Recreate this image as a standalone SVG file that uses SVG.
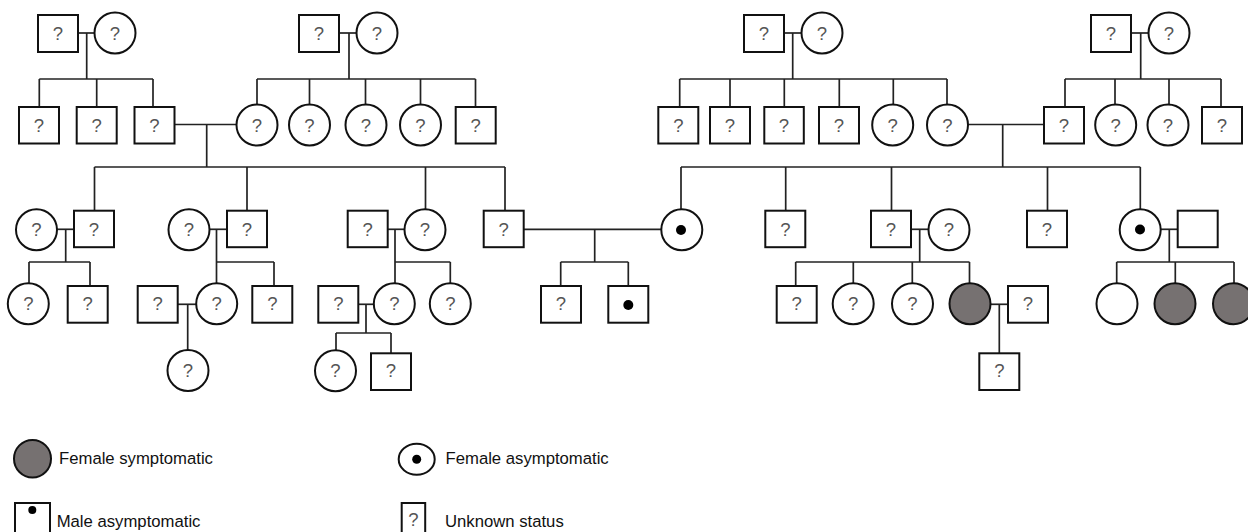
<svg xmlns="http://www.w3.org/2000/svg" width="1248" height="532" viewBox="0 0 1248 532">
<style>
.m{fill:#fff;stroke:#111;stroke-width:2}
.f{fill:#fff;stroke:#111;stroke-width:2}
.a{fill:#767171;stroke:#111;stroke-width:2}
.q{font-family:"Liberation Sans",Arial,sans-serif;font-size:18.5px;fill:#555;text-anchor:middle}
.d{fill:#000}
.l{font-family:"Liberation Sans",Arial,sans-serif;font-size:16.7px;fill:#111}
#connectors line{stroke:#222;stroke-width:1.7;fill:none}
</style>
<rect width="1248" height="532" fill="#fff"/>
<g id="connectors">
<line x1="78" y1="33" x2="94.5" y2="33"/><line x1="86.7" y1="33" x2="86.7" y2="79"/>
<line x1="39.3" y1="79" x2="153" y2="79"/>
<line x1="39.3" y1="79" x2="39.3" y2="107"/><line x1="96.7" y1="79" x2="96.7" y2="107"/><line x1="153" y1="79" x2="153" y2="107"/>
<line x1="339" y1="33" x2="356.5" y2="33"/><line x1="349" y1="33" x2="349" y2="79"/>
<line x1="257" y1="79" x2="475.5" y2="79"/>
<line x1="257" y1="79" x2="257" y2="104.5"/><line x1="309.5" y1="79" x2="309.5" y2="104.5"/><line x1="365.5" y1="79" x2="365.5" y2="104.5"/><line x1="420.5" y1="79" x2="420.5" y2="104.5"/><line x1="475.5" y1="79" x2="475.5" y2="107"/>
<line x1="784" y1="33" x2="801.5" y2="33"/><line x1="792.7" y1="33" x2="792.7" y2="79"/>
<line x1="679.7" y1="79" x2="947" y2="79"/>
<line x1="679.7" y1="79" x2="679.7" y2="107"/><line x1="730" y1="79" x2="730" y2="107"/><line x1="784.3" y1="79" x2="784.3" y2="107"/><line x1="839.3" y1="79" x2="839.3" y2="107"/><line x1="893.3" y1="79" x2="893.3" y2="104.5"/><line x1="947" y1="79" x2="947" y2="104.5"/>
<line x1="1131" y1="33" x2="1148.5" y2="33"/><line x1="1140.7" y1="33" x2="1140.7" y2="79"/>
<line x1="1065" y1="79" x2="1221" y2="79"/>
<line x1="1065" y1="79" x2="1065" y2="107"/><line x1="1115" y1="79" x2="1115" y2="104.5"/><line x1="1169" y1="79" x2="1169" y2="104.5"/><line x1="1221" y1="79" x2="1221" y2="107"/>
<line x1="174" y1="124.5" x2="236.5" y2="124.5"/><line x1="206.7" y1="124.5" x2="206.7" y2="167"/>
<line x1="94.5" y1="167" x2="505" y2="167"/>
<line x1="94.5" y1="167" x2="94.5" y2="210.7"/><line x1="247" y1="167" x2="247" y2="210.7"/><line x1="425.5" y1="167" x2="425.5" y2="209"/><line x1="505" y1="167" x2="505" y2="210.7"/>
<line x1="968" y1="124.5" x2="1044" y2="124.5"/><line x1="1002.7" y1="124.5" x2="1002.7" y2="167"/>
<line x1="681" y1="167" x2="1140.3" y2="167"/>
<line x1="681" y1="167" x2="681" y2="209"/><line x1="785.7" y1="167" x2="785.7" y2="210.7"/><line x1="891.5" y1="167" x2="891.5" y2="210.7"/><line x1="1047.5" y1="167" x2="1047.5" y2="210.7"/><line x1="1140.3" y1="167" x2="1140.3" y2="209"/>
<line x1="57" y1="229.3" x2="74" y2="229.3"/><line x1="65.7" y1="229.3" x2="65.7" y2="262"/>
<line x1="29" y1="262" x2="90" y2="262"/><line x1="29" y1="262" x2="29" y2="283.3"/><line x1="90" y1="262" x2="90" y2="286"/>
<line x1="209.5" y1="229.3" x2="227" y2="229.3"/><line x1="216.5" y1="229.3" x2="216.5" y2="283.3"/>
<line x1="216.5" y1="262" x2="274" y2="262"/><line x1="274" y1="262" x2="274" y2="286"/>
<line x1="177.7" y1="304.3" x2="196.2" y2="304.3"/><line x1="187.7" y1="304.3" x2="187.7" y2="350"/>
<line x1="387.7" y1="229.3" x2="404.5" y2="229.3"/><line x1="395" y1="229.3" x2="395" y2="283.3"/>
<line x1="395" y1="262" x2="450.3" y2="262"/><line x1="450.3" y1="262" x2="450.3" y2="283.3"/>
<line x1="358.3" y1="304.3" x2="374" y2="304.3"/><line x1="366" y1="304.3" x2="366" y2="333"/>
<line x1="336" y1="333" x2="391" y2="333"/><line x1="336" y1="333" x2="336" y2="350.3"/><line x1="391" y1="333" x2="391" y2="353.3"/>
<line x1="523.7" y1="229.3" x2="661.3" y2="229.3"/><line x1="594.7" y1="229.3" x2="594.7" y2="262"/>
<line x1="560.7" y1="262" x2="628.3" y2="262"/><line x1="560.7" y1="262" x2="560.7" y2="286"/><line x1="628.3" y1="262" x2="628.3" y2="286"/>
<line x1="911" y1="229.3" x2="928.5" y2="229.3"/><line x1="919.7" y1="229.3" x2="919.7" y2="262"/>
<line x1="795.7" y1="262" x2="969.5" y2="262"/>
<line x1="795.7" y1="262" x2="795.7" y2="286"/><line x1="853.3" y1="262" x2="853.3" y2="283.3"/><line x1="912.3" y1="262" x2="912.3" y2="283.3"/><line x1="969.5" y1="262" x2="969.5" y2="283.3"/>
<line x1="990.5" y1="304.3" x2="1008" y2="304.3"/><line x1="999.3" y1="304.3" x2="999.3" y2="353.3"/>
<line x1="1160.7" y1="229.3" x2="1177.7" y2="229.3"/><line x1="1169.3" y1="229.3" x2="1169.3" y2="262"/>
<line x1="1116.7" y1="262" x2="1234" y2="262"/>
<line x1="1116.7" y1="262" x2="1116.7" y2="283.3"/><line x1="1175.3" y1="262" x2="1175.3" y2="283.3"/><line x1="1234" y1="262" x2="1234" y2="283.3"/>
</g>

<g id="g1-A1"><rect class="m" x="38" y="15" width="40" height="37"/><text class="q" x="58" y="40">?</text></g>
<g id="g1-A2"><circle class="f" cx="115" cy="33" r="20.5"/><text class="q" x="115" y="40">?</text></g>
<g id="g1-B1"><rect class="m" x="299" y="15" width="40" height="37"/><text class="q" x="319" y="40">?</text></g>
<g id="g1-B2"><circle class="f" cx="377" cy="33" r="20.5"/><text class="q" x="377" y="40">?</text></g>
<g id="g1-C1"><rect class="m" x="744" y="15" width="40" height="37"/><text class="q" x="764" y="40">?</text></g>
<g id="g1-C2"><circle class="f" cx="822" cy="33" r="20.5"/><text class="q" x="822" y="40">?</text></g>
<g id="g1-D1"><rect class="m" x="1091" y="15" width="40" height="37"/><text class="q" x="1111" y="40">?</text></g>
<g id="g1-D2"><circle class="f" cx="1169" cy="33" r="20.5"/><text class="q" x="1169" y="40">?</text></g>

<g id="g2-A1"><rect class="m" x="19" y="107" width="40" height="36.5"/><text class="q" x="39" y="131.5">?</text></g>
<g id="g2-A2"><rect class="m" x="76.7" y="107" width="40" height="36.5"/><text class="q" x="96.7" y="131.5">?</text></g>
<g id="g2-A3"><rect class="m" x="134.5" y="107" width="40" height="36.5"/><text class="q" x="154.5" y="131.5">?</text></g>
<g id="g2-B1"><circle class="f" cx="257" cy="125" r="20.5"/><text class="q" x="257" y="131.5">?</text></g>
<g id="g2-B2"><circle class="f" cx="309.5" cy="125" r="20.5"/><text class="q" x="309.5" y="131.5">?</text></g>
<g id="g2-B3"><circle class="f" cx="366" cy="125" r="20.5"/><text class="q" x="366" y="131.5">?</text></g>
<g id="g2-B4"><circle class="f" cx="420.5" cy="125" r="20.5"/><text class="q" x="420.5" y="131.5">?</text></g>
<g id="g2-B5"><rect class="m" x="455.7" y="107" width="40" height="36.5"/><text class="q" x="475.7" y="131.5">?</text></g>
<g id="g2-C1"><rect class="m" x="658.3" y="107" width="40" height="36.5"/><text class="q" x="678.3" y="131.5">?</text></g>
<g id="g2-C2"><rect class="m" x="710" y="107" width="40" height="36.5"/><text class="q" x="730" y="131.5">?</text></g>
<g id="g2-C3"><rect class="m" x="764.3" y="107" width="39.5" height="36.5"/><text class="q" x="784" y="131.5">?</text></g>
<g id="g2-C4"><rect class="m" x="819" y="107" width="40" height="36.5"/><text class="q" x="839" y="131.5">?</text></g>
<g id="g2-C5"><circle class="f" cx="892.7" cy="125" r="20.5"/><text class="q" x="892.7" y="131.5">?</text></g>
<g id="g2-C6"><circle class="f" cx="947.5" cy="125" r="20.5"/><text class="q" x="947.5" y="131.5">?</text></g>
<g id="g2-D1"><rect class="m" x="1044" y="107" width="40" height="36.5"/><text class="q" x="1064" y="131.5">?</text></g>
<g id="g2-D2"><circle class="f" cx="1115.7" cy="125" r="20.5"/><text class="q" x="1115.7" y="131.5">?</text></g>
<g id="g2-D3"><circle class="f" cx="1168" cy="125" r="20.5"/><text class="q" x="1168" y="131.5">?</text></g>
<g id="g2-D4"><rect class="m" x="1202" y="107" width="40" height="36.5"/><text class="q" x="1222" y="131.5">?</text></g>

<g id="g3-L1w"><circle class="f" cx="36.5" cy="229.7" r="20.5"/><text class="q" x="36.5" y="236.2">?</text></g>
<g id="g3-L1h"><rect class="m" x="74" y="210.7" width="40" height="36.5"/><text class="q" x="94" y="236.2">?</text></g>
<g id="g3-L2w"><circle class="f" cx="189" cy="229.7" r="20.5"/><text class="q" x="189" y="236.2">?</text></g>
<g id="g3-L2h"><rect class="m" x="227" y="210.7" width="40" height="36.5"/><text class="q" x="247" y="236.2">?</text></g>
<g id="g3-L3h"><rect class="m" x="347.7" y="210.7" width="40" height="36.5"/><text class="q" x="367.7" y="236.2">?</text></g>
<g id="g3-L3w"><circle class="f" cx="425" cy="229.7" r="20.5"/><text class="q" x="425" y="236.2">?</text></g>
<g id="g3-C1"><rect class="m" x="483.7" y="210.7" width="40" height="36.5"/><text class="q" x="503.7" y="236.2">?</text></g>
<g id="g3-C2"><circle class="f" cx="681.8" cy="229.7" r="20.5"/><circle class="d" cx="681" cy="230" r="5"/></g>
<g id="g3-R1"><rect class="m" x="765.3" y="210.7" width="40" height="36.5"/><text class="q" x="785.3" y="236.2">?</text></g>
<g id="g3-R2h"><rect class="m" x="871" y="210.7" width="40" height="36.5"/><text class="q" x="891" y="236.2">?</text></g>
<g id="g3-R2w"><circle class="f" cx="949" cy="229.7" r="20.5"/><text class="q" x="949" y="236.2">?</text></g>
<g id="g3-R3"><rect class="m" x="1027" y="210.7" width="40" height="36.5"/><text class="q" x="1047" y="236.2">?</text></g>
<g id="g3-R4w"><circle class="f" cx="1140.2" cy="229.7" r="20.5"/><circle class="d" cx="1140" cy="229.5" r="5"/></g>
<g id="g3-R4h"><rect class="m" x="1177.7" y="210.7" width="40" height="36.5"/></g>

<g id="g4-L1a"><circle class="f" cx="28.3" cy="303.7" r="20.5"/><text class="q" x="28.3" y="310.2">?</text></g>
<g id="g4-L1b"><rect class="m" x="67.7" y="286" width="40" height="36.7"/><text class="q" x="87.7" y="310.2">?</text></g>
<g id="g4-L2s"><rect class="m" x="137.7" y="286" width="40" height="36.7"/><text class="q" x="157.7" y="310.2">?</text></g>
<g id="g4-L2a"><circle class="f" cx="216.7" cy="303.7" r="20.5"/><text class="q" x="216.7" y="310.2">?</text></g>
<g id="g4-L2b"><rect class="m" x="252.3" y="286" width="40" height="36.7"/><text class="q" x="272.3" y="310.2">?</text></g>
<g id="g4-L3s"><rect class="m" x="318.3" y="286" width="40" height="36.7"/><text class="q" x="338.3" y="310.2">?</text></g>
<g id="g4-L3a"><circle class="f" cx="394.3" cy="303.7" r="20.5"/><text class="q" x="394.3" y="310.2">?</text></g>
<g id="g4-L3b"><circle class="f" cx="450.3" cy="303.7" r="20.5"/><text class="q" x="450.3" y="310.2">?</text></g>
<g id="g4-C1"><rect class="m" x="541" y="286" width="40" height="36.7"/><text class="q" x="561" y="310.2">?</text></g>
<g id="g4-C2"><rect class="m" x="608.3" y="286" width="40" height="36.7"/><circle class="d" cx="628.3" cy="305" r="5"/></g>
<g id="g4-R1"><rect class="m" x="776.7" y="286" width="40" height="36.7"/><text class="q" x="796.7" y="310.2">?</text></g>
<g id="g4-R2"><circle class="f" cx="853.2" cy="303.7" r="20.5"/><text class="q" x="853.2" y="310.2">?</text></g>
<g id="g4-R3"><circle class="f" cx="912.5" cy="303.7" r="20.5"/><text class="q" x="912.5" y="310.2">?</text></g>
<g id="g4-R4"><circle class="a" cx="970" cy="303.7" r="20.5"/></g>
<g id="g4-R4s"><rect class="m" x="1008" y="286" width="40" height="36.7"/><text class="q" x="1028" y="310.2">?</text></g>
<g id="g4-R5"><circle class="f" cx="1117" cy="303.7" r="20.5"/></g>
<g id="g4-R6"><circle class="a" cx="1175" cy="303.7" r="20.5"/></g>
<g id="g4-R7"><circle class="a" cx="1233.5" cy="303.7" r="20.5"/></g>

<g id="g5-L2"><circle class="f" cx="188" cy="370.5" r="20.5"/><text class="q" x="188" y="377">?</text></g>
<g id="g5-L3a"><circle class="f" cx="335.5" cy="370.7" r="20.5"/><text class="q" x="335.5" y="377">?</text></g>
<g id="g5-L3b"><rect class="m" x="371" y="353.3" width="40" height="36.7"/><text class="q" x="391" y="377">?</text></g>
<g id="g5-R"><rect class="m" x="979.3" y="353.3" width="40" height="36.7"/><text class="q" x="999.3" y="377">?</text></g>

<g id="legend-symptomatic"><ellipse class="a" cx="32.5" cy="458.7" rx="18.5" ry="18.8"/><text class="l" x="59" y="464.3">Female symptomatic</text></g>
<g id="legend-female-asym"><ellipse class="f" cx="416.7" cy="459.2" rx="18" ry="15.5"/><circle class="d" cx="416.7" cy="459.3" r="4.5"/><text class="l" x="445.5" y="464">Female asymptomatic</text></g>
<g id="legend-male-asym"><rect class="m" x="15" y="503" width="35" height="40"/><circle class="d" cx="32.3" cy="510" r="4"/><text class="l" x="56.7" y="527">Male asymptomatic</text></g>
<g id="legend-unknown"><rect class="m" x="401.7" y="503" width="23.5" height="40"/><text class="q" x="413.5" y="526">?</text><text class="l" x="445" y="527">Unknown status</text></g>
</svg>
